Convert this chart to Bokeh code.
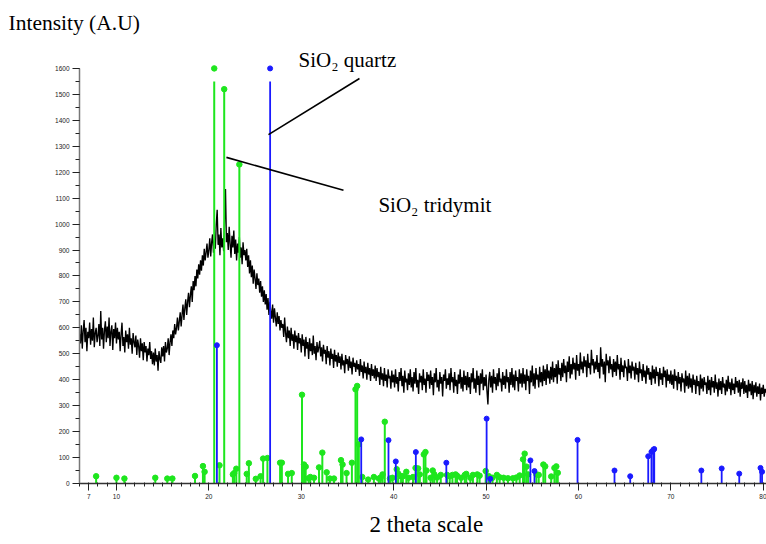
from bokeh.plotting import figure
from bokeh.models import Range1d, FixedTicker, Label, Title
from bokeh.embed import file_html
from bokeh.resources import INLINE

# ---- measured XRD trace (2 theta from 6.0 in 0.1 deg steps) ----
theta_start = 6.0
theta_step = 0.1
intensity = [
    575, 540, 610, 520, 590, 630, 545, 600, 510, 585, 560, 620, 535, 595, 550, 640, 525, 580, 600, 545,  # 6-8
    570, 615, 530, 665, 555, 600, 520, 590, 625, 545, 605, 560, 640, 530, 585, 610, 515, 595, 560, 620,  # 8-10
    540, 600, 555, 585, 510, 575, 620, 530, 565, 505, 590, 545, 575, 520, 600, 535, 560, 500, 580, 545,  # 10-12
    525, 570, 495, 555, 530, 485, 560, 510, 540, 475, 545, 505, 530, 470, 520, 495, 545, 480, 510, 460,  # 12-14
    505, 455, 520, 470, 495, 435, 510, 480, 465, 525, 490, 530, 470, 545, 505, 520, 560, 495, 545, 575,  # 14-16
    530, 590, 560, 615, 575, 600, 640, 590, 625, 660, 605, 650, 690, 630, 675, 710, 650, 700, 735, 680,  # 16-18
    725, 760, 700, 780, 745, 800, 760, 825, 790, 845, 805, 860, 820, 880, 840, 905, 860, 890, 925, 870,  # 18-20
    900, 945, 875, 930, 960, 890, 940, 905, 1000, 1055, 920, 960, 880, 985, 910, 945, 895, 1010, 1135, 930,  # 20-22
    965, 900, 990, 925, 870, 955, 910, 975, 885, 940, 860, 925, 890, 950, 870, 910, 845, 930, 880, 900,  # 22-24
    860, 905, 835, 880, 810, 860, 795, 840, 770, 825, 790, 750, 810, 765, 790, 735, 780, 720, 760, 700,  # 24-26
    745, 690, 730, 670, 715, 650, 700, 665, 635, 690, 620, 675, 640, 605, 660, 615, 645, 590, 630, 600,  # 26-28
    615, 565, 640, 580, 545, 605, 560, 590, 530, 600, 550, 575, 520, 590, 545, 570, 515, 580, 540, 560,  # 28-30
    505, 575, 530, 555, 490, 565, 520, 545, 480, 560, 510, 540, 495, 570, 500, 530, 475, 545, 505, 525,  # 30-32
    550, 490, 525, 470, 535, 500, 515, 460, 530, 485, 510, 455, 520, 480, 500, 445, 515, 470, 495, 450,  # 32-34
    505, 465, 490, 440, 500, 455, 475, 425, 495, 460, 480, 435, 490, 445, 470, 420, 485, 450, 465, 430,  # 34-36
    475, 440, 460, 415, 480, 430, 455, 405, 470, 425, 450, 400, 465, 420, 445, 395, 460, 415, 440, 405,  # 36-38
    455, 395, 445, 410, 430, 380, 450, 400, 425, 375, 445, 395, 420, 370, 440, 405, 415, 365, 435, 390,  # 38-40
    420, 370, 440, 385, 410, 355, 430, 395, 445, 375, 415, 350, 435, 390, 405, 360, 425, 380, 440, 370,  # 40-42
    410, 355, 430, 385, 445, 370, 400, 345, 425, 390, 415, 360, 440, 380, 405, 350, 430, 395, 420, 365,  # 42-44
    435, 380, 410, 340, 425, 390, 445, 370, 400, 355, 430, 385, 410, 335, 420, 395, 440, 365, 405, 380,  # 44-46
    425, 360, 445, 390, 410, 350, 430, 375, 400, 345, 420, 385, 440, 365, 410, 355, 435, 380, 415, 360,  # 46-48
    430, 370, 410, 345, 425, 390, 445, 365, 405, 350, 435, 380, 415, 340, 425, 385, 440, 360, 410, 375,  # 48-50
    420, 355, 305, 400, 430, 370, 415, 350, 440, 385, 410, 360, 425, 375, 445, 390, 405, 355, 430, 380,  # 50-52
    415, 365, 440, 390, 410, 350, 430, 380, 445, 370, 420, 360, 435, 395, 410, 355, 440, 385, 425, 370,  # 52-54
    445, 385, 420, 360, 440, 395, 415, 345, 435, 390, 455, 375, 425, 365, 445, 400, 420, 370, 450, 390,  # 54-56
    430, 375, 455, 395, 440, 380, 460, 405, 435, 385, 450, 400, 470, 390, 445, 410, 460, 385, 475, 420,  # 56-58
    445, 395, 465, 410, 480, 425, 455, 390, 470, 430, 490, 405, 460, 420, 485, 440, 465, 400, 495, 435,  # 58-60
    460, 415, 505, 440, 470, 425, 490, 450, 475, 410, 500, 445, 465, 420, 515, 455, 480, 425, 470, 440,  # 60-62
    495, 430, 465, 405, 525, 450, 480, 420, 470, 390, 500, 455, 475, 425, 490, 440, 460, 410, 480, 430,  # 62-64
    470, 415, 495, 440, 460, 400, 485, 430, 455, 410, 475, 445, 450, 395, 480, 425, 455, 405, 470, 435,  # 64-66
    450, 400, 465, 420, 445, 390, 470, 425, 440, 395, 460, 410, 435, 385, 455, 420, 445, 400, 430, 380,  # 66-68
    455, 405, 440, 385, 450, 415, 430, 375, 445, 400, 425, 380, 450, 410, 435, 370, 440, 395, 420, 385,  # 68-70
    435, 380, 420, 365, 440, 395, 415, 360, 430, 385, 410, 355, 425, 390, 405, 350, 435, 375, 415, 365,  # 70-72
    425, 370, 405, 350, 420, 380, 400, 345, 415, 375, 395, 340, 420, 365, 405, 355, 410, 380, 390, 345,  # 72-74
    415, 360, 400, 340, 410, 370, 395, 350, 420, 365, 390, 335, 405, 360, 395, 345, 410, 370, 385, 340,  # 74-76
    400, 355, 415, 365, 390, 340, 405, 360, 385, 345, 410, 370, 395, 350, 400, 335, 390, 365, 405, 345,  # 76-78
    395, 350, 380, 330, 400, 355, 385, 340, 395, 325, 380, 350, 390, 335, 375, 345, 385, 320, 370, 345,  # 78-80
    380, 335, 365, 350,
]
theta = [round(theta_start + i * theta_step, 2) for i in range(len(intensity))]

# ---- reference stick patterns ----
tridymite_pos = [7.8, 10.0, 10.86, 14.2, 15.5, 16.05, 18.5, 19.36, 19.54, 20.58, 21.15, 21.66,
                 22.6, 22.75, 22.97, 23.3, 24.1, 24.33, 25.08, 25.6, 25.87, 26.34, 27.71, 27.9,
                 28.57, 28.97, 30.08, 30.3, 30.48, 30.8, 30.98, 31.38, 31.92, 32.28, 32.75, 33.1,
                 33.54, 34.3, 34.47, 34.9, 35.48, 35.87, 36.05, 36.23, 36.6, 37.24, 37.86, 38.4,
                 38.6, 38.8, 39.04, 39.6, 39.87, 40.33, 40.5, 40.8, 41.0, 41.37, 41.6, 42.1,
                 42.37, 42.65, 42.83, 43.26, 43.44, 43.55, 44.0, 44.23, 44.4, 44.7, 45.1, 45.78,
                 46.07, 46.36, 46.7, 46.86, 47.3, 47.7, 47.86, 48.3, 48.58, 49.05, 49.3, 49.96,
                 50.3, 50.7, 51.17, 51.47, 51.9, 52.37, 52.9, 53.28, 53.64, 54.0, 54.18, 54.37,
                 54.55, 55.45, 55.7, 56.2, 56.4, 57.05, 57.4, 57.6, 57.76]
tridymite_int = [28, 22, 19, 22, 19, 19, 29, 67, 45, 1600, 70, 1520,
                 35, 40, 57, 1230, 37, 78, 18, 28, 96, 98, 80, 80,
                 37, 40, 342, 73, 65, 20, 25, 22, 62, 119, 43, 19,
                 19, 90, 73, 40, 80, 363, 376, 151, 25, 15, 25, 19,
                 23, 35, 238, 19, 22, 55, 38, 28, 28, 45, 22, 25,
                 60, 58, 35, 112, 121, 50, 22, 50, 35, 23, 33, 33,
                 28, 33, 35, 30, 22, 33, 37, 22, 33, 35, 30, 48,
                 28, 22, 33, 24, 22, 20, 20, 23, 31, 93, 115, 65,
                 35, 35, 33, 73, 66, 27, 60, 66, 41]
quartz_pos = [20.87, 26.63, 36.49, 39.44, 40.23, 42.4, 45.7, 50.06, 50.45, 54.8, 55.24, 59.9,
              63.9, 65.6, 67.55, 67.9, 68.1, 68.2, 73.3, 75.5, 77.4, 79.7, 79.87]
quartz_int = [533, 1600, 170, 167, 85, 121, 80, 250, 18, 89, 48, 168,
              50, 28, 105, 122, 130, 133, 50, 58, 38, 60, 45]

x_ticks = [7, 10, 20, 30, 40, 50, 60, 70, 80]
y_ticks = list(range(0, 1601, 100))
stick_cap = 1550  # sticks reaching the top are drawn with a short gap below their marker

# leader lines of the two phase labels
quartz_leader_x = [26.45, 36.3]
quartz_leader_y = [1345, 1561]
trid_leader_x = [21.9, 34.57]
trid_leader_y = [1257, 1130]

GREEN = "#1ee61e"
BLUE = "#1a1aff"
SERIF = "Liberation Serif"

p = figure(width=766, height=544, output_backend="svg", toolbar_location=None,
           x_range=Range1d(6.0, 80.35), y_range=Range1d(0, 1723),
           min_border_left=79, min_border_right=0, min_border_top=36, min_border_bottom=61)
p.outline_line_color = None
p.grid.visible = False
p.background_fill_color = "white"

p.title.text = "Intensity (A.U)"
p.title.align = "left"
p.title.offset = -71
p.title.standoff = 4
p.title.text_font = SERIF
p.title.text_font_size = "21.5px"
p.title.text_font_style = "normal"
p.title.text_color = "black"

p.line(theta, intensity, color="black", line_width=1.35)

trid_top = [min(v, stick_cap) for v in tridymite_int]
quartz_top = [min(v, stick_cap) for v in quartz_int]
p.segment(x0=tridymite_pos, y0=[0] * len(tridymite_pos), x1=tridymite_pos, y1=trid_top,
          line_color=GREEN, line_width=2)
p.scatter(tridymite_pos, tridymite_int, size=5.5, color=GREEN)
p.segment(x0=quartz_pos, y0=[0] * len(quartz_pos), x1=quartz_pos, y1=quartz_top,
          line_color=BLUE, line_width=1.8)
p.scatter(quartz_pos, quartz_int, size=5, color=BLUE)

p.line(quartz_leader_x, quartz_leader_y, color="black", line_width=1.6)
p.line(trid_leader_x, trid_leader_y, color="black", line_width=1.6)

# axes
p.xaxis.ticker = FixedTicker(ticks=x_ticks, minor_ticks=list(range(6, 81)))
p.yaxis.ticker = FixedTicker(ticks=y_ticks, minor_ticks=list(range(0, 1601, 50)))
p.yaxis.bounds = (0, 1600)
for ax in (p.xaxis, p.yaxis):
    ax.major_label_text_font = "Liberation Sans"
    ax.major_label_text_font_size = "6.5px"
    ax.major_label_text_color = "#222222"
    ax.major_tick_line_color = "#222222"
    ax.minor_tick_line_color = "#222222"
    ax.major_tick_in = 0
    ax.major_tick_out = 7
    ax.minor_tick_in = 0
    ax.minor_tick_out = 4
    ax.major_label_standoff = 3
p.xaxis.axis_line_color = "#333333"
p.xaxis.axis_line_width = 1.5
p.yaxis.axis_line_color = "#777777"
p.yaxis.axis_line_width = 1.5
p.xaxis.minor_tick_in = 1
p.xaxis.minor_tick_out = 3

p.add_layout(Title(text="2 theta scale", align="left", offset=290, text_font=SERIF,
                   text_font_size="23px", text_font_style="normal", text_color="black",
                   standoff=16), "below")

p.add_layout(Label(x=29.7, y=1631, text="SiO\u2082 quartz", text_font=SERIF,
                   text_font_size="21px", text_baseline="alphabetic", text_color="black"))
p.add_layout(Label(x=38.35, y=1072, text="SiO\u2082 tridymit", text_font=SERIF,
                   text_font_size="21px", text_baseline="alphabetic", text_color="black"))

open("out.html", "w").write(file_html(p, INLINE))
